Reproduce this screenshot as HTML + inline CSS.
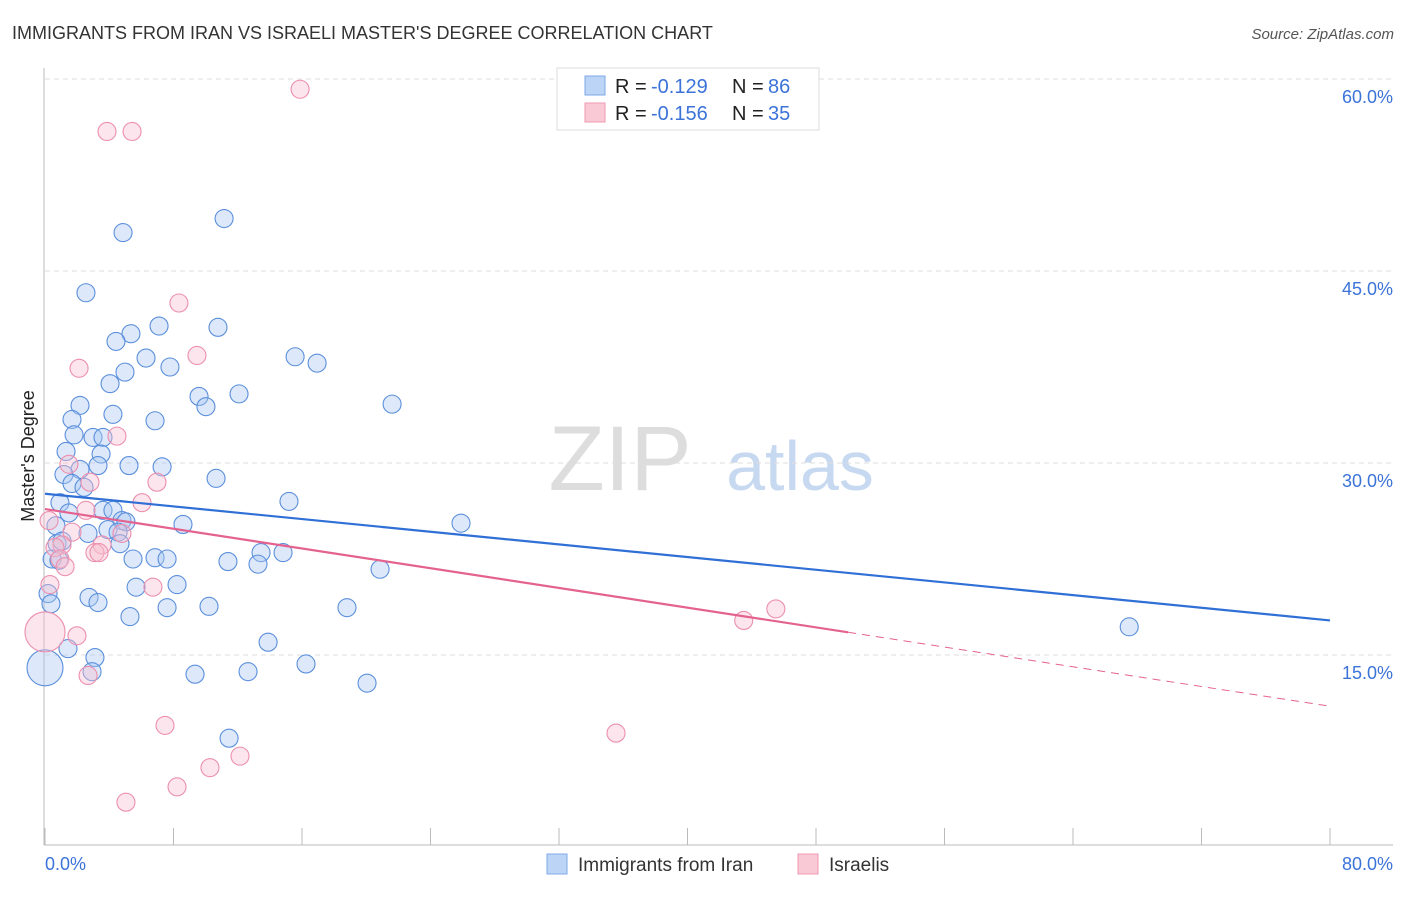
<!DOCTYPE html>
<html><head><meta charset="utf-8"><style>
body{margin:0;background:#fff;font-family:"Liberation Sans",sans-serif;}
svg text{font-family:"Liberation Sans",sans-serif;}
</style></head><body>
<svg id="chart" width="1406" height="892" viewBox="0 0 1406 892" xmlns="http://www.w3.org/2000/svg">
<text x="12" y="39" font-size="18" fill="#333">IMMIGRANTS FROM IRAN VS ISRAELI MASTER'S DEGREE CORRELATION CHART</text>
<text x="1394" y="39" font-size="15" fill="#555" font-style="italic" text-anchor="end">Source: ZipAtlas.com</text>
<g>
<text x="620" y="490" font-size="92" fill="#ddd" text-anchor="middle" font-family="Liberation Serif, serif">ZIP</text>
<text x="800" y="490" font-size="70" fill="#c7d9f0" text-anchor="middle">atlas</text>
</g>
<g id="grid"></g>
<g id="axes"></g>
<g id="marks"></g>
<g>
<rect x="557" y="68" width="262" height="62" fill="#fff" stroke="#ddd"/>
<rect x="585" y="76" width="20" height="19" fill="#bcd4f5" stroke="#7fa8e8"/>
<text x="615" y="93" font-size="20" fill="#222">R =</text>
<text x="651" y="93" font-size="20" fill="#3b73d9">-0.129</text>
<text x="732" y="93" font-size="20" fill="#222">N =</text>
<text x="768" y="93" font-size="20" fill="#3b73d9">86</text>
<rect x="585" y="103" width="20" height="19" fill="#f9c9d6" stroke="#ef9ab2"/>
<text x="615" y="120" font-size="20" fill="#222">R =</text>
<text x="651" y="120" font-size="20" fill="#3b73d9">-0.156</text>
<text x="732" y="120" font-size="20" fill="#222">N =</text>
<text x="768" y="120" font-size="20" fill="#3b73d9">35</text>
</g>
<g>
<rect x="547" y="854" width="20" height="20" fill="#bcd4f5" stroke="#7fa8e8"/>
<text x="578" y="871" font-size="19" fill="#333">Immigrants from Iran</text>
<rect x="798" y="854" width="20" height="20" fill="#f9c9d6" stroke="#ef9ab2"/>
<text x="829" y="871" font-size="19" fill="#333">Israelis</text>
</g>
<text transform="translate(34,456) rotate(-90)" font-size="18" fill="#222" text-anchor="middle">Master's Degree</text>
</svg>
<script>
const yTicks=[15,30,45,60];
const yTickLabels=["15.0%","30.0%","45.0%","60.0%"];
const xTicks=[0,8,16,24,32,40,48,56,64,72,80];
const blueX=[2.55,4.86,11.15,5.35,7.10,10.77,4.42,6.29,7.78,15.57,16.94,4.05,4.98,9.59,10.02,12.08,21.61,2.18,4.23,1.68,6.85,1.81,2.99,3.61,1.31,3.49,2.18,3.30,5.23,7.29,10.65,1.18,1.68,2.43,15.19,0.93,1.49,3.61,4.23,4.79,5.04,8.59,25.9,0.68,2.68,3.92,4.55,0.75,1.06,4.67,0.44,0.87,5.48,6.85,7.60,11.39,13.45,13.26,14.82,20.86,0.19,2.74,3.30,0.37,5.67,8.22,10.21,7.60,18.8,5.29,13.89,1.43,3.11,2.93,9.34,12.64,16.25,20.05,11.46,67.5,0];
const blueY=[43.3,48.0,49.1,40.1,40.7,40.6,39.5,38.2,37.5,38.3,37.8,36.2,37.1,35.2,34.4,35.4,34.6,34.5,33.8,33.4,33.3,32.2,32.0,32.0,30.9,30.7,29.5,29.8,29.8,29.7,28.8,29.1,28.4,28.1,27.0,26.9,26.1,26.3,26.3,25.5,25.4,25.2,25.3,25.1,24.5,24.8,24.6,23.7,23.9,23.7,22.5,22.4,22.5,22.6,22.5,22.3,23.0,22.1,23.0,21.7,19.8,19.5,19.1,19.0,20.3,20.5,18.8,18.7,18.7,18.0,16.0,15.5,14.8,13.7,13.5,13.7,14.3,12.8,8.5,17.2,14.0];
const pinkX=[15.88,3.86,5.42,8.34,9.46,2.12,4.48,1.49,2.80,6.97,6.04,2.55,0.25,1.68,1.06,0.62,0.93,1.25,3.55,3.11,3.36,4.79,0.31,6.72,1.99,0,2.68,7.47,10.27,12.14,8.22,5.04,35.55,43.5,45.5];
const pinkY=[59.2,55.9,55.9,42.5,38.4,37.4,32.1,29.9,28.5,28.5,26.9,26.3,25.5,24.6,23.6,23.4,22.5,21.9,23.6,23.0,23.0,24.5,20.5,20.3,16.5,16.8,13.4,9.5,6.2,7.1,4.7,3.5,8.9,17.7,18.6];
const blueTrend=[27.6,17.7];
const pinkTrend=[26.4,11.0];
const pinkSolidEnd=50;
const X0=45,X1=1330,Y0=847,YS=12.8;
const sx=v=>X0+(X1-X0)*v/80;
const sy=v=>Y0-v*YS;
const NS="http://www.w3.org/2000/svg";
function mk(tag,attrs,parent){const e=document.createElementNS(NS,tag);for(const k in attrs)e.setAttribute(k,attrs[k]);parent.appendChild(e);return e;}
const grid=document.getElementById('grid'),axes=document.getElementById('axes'),marks=document.getElementById('marks');
yTicks.forEach((t,i)=>{
 const l=mk('line',{x1:X0,x2:1393,y1:sy(t),y2:sy(t),stroke:'#ddd','stroke-dasharray':'5,4'},grid);
 
 
 const tx=mk('text',{x:1393,y:sy(t)+24,'font-size':18,fill:'#3b73d9','text-anchor':'end'},axes);
 tx.textContent=yTickLabels[i];
 
 
});
const ya=mk('line',{x1:44,x2:44,y1:68,y2:845,stroke:'#bbb'},axes);


const xa=mk('line',{x1:44,x2:1393,y1:845,y2:845,stroke:'#bbb'},axes);


xTicks.forEach(t=>{
 const l=mk('line',{x1:sx(t),x2:sx(t),y1:828,y2:845,stroke:'#bbb'},axes);
 
 
});
const xl0=mk('text',{x:45,y:870,'font-size':18,fill:'#3b73d9'},axes);xl0.textContent='0.0%';


const xl1=mk('text',{x:1393,y:870,'font-size':18,fill:'#3b73d9','text-anchor':'end'},axes);xl1.textContent='80.0%';


blueX.forEach((x,i)=>{
 const big=(x===0);
 const c=mk('circle',{cx:sx(x),cy:sy(blueY[i]),r:big?18:9,fill:'rgba(170,200,242,0.4)',stroke:'#5b8fdc','stroke-width':1.1},marks);
 
 
});
pinkX.forEach((x,i)=>{
 const big=(x===0);
 const c=mk('circle',{cx:sx(x),cy:sy(pinkY[i]),r:big?20:9,fill:'rgba(248,190,208,0.4)',stroke:'#ec8fae','stroke-width':1.1},marks);
 
 
});
const bt=mk('line',{x1:sx(0),y1:sy(blueTrend[0]),x2:sx(80),y2:sy(blueTrend[1]),stroke:'#2f6fd6','stroke-width':2.2},marks);


const pm=pinkTrend[0]+(pinkTrend[1]-pinkTrend[0])*pinkSolidEnd/80;
const pt=mk('line',{x1:sx(0),y1:sy(pinkTrend[0]),x2:sx(pinkSolidEnd),y2:sy(pm),stroke:'#e4628f','stroke-width':2.2},marks);


const pd=mk('line',{x1:sx(pinkSolidEnd),y1:sy(pm),x2:sx(80),y2:sy(pinkTrend[1]),stroke:'#e4628f','stroke-width':1,'stroke-dasharray':'8,6'},marks);


</script>
</body></html>
